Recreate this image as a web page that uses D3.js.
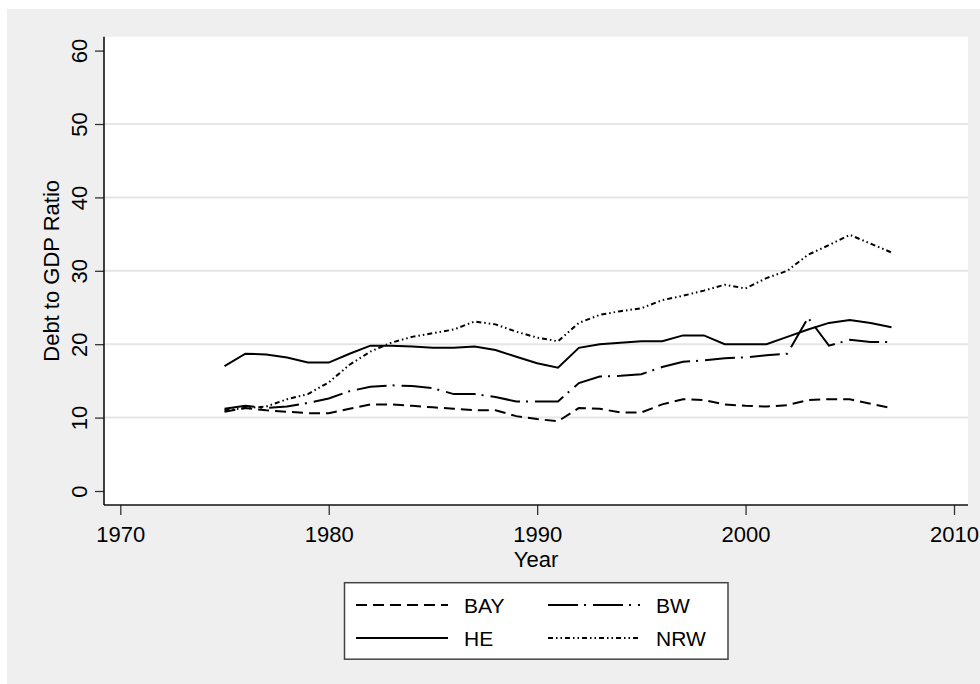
<!DOCTYPE html>
<html>
<head>
<meta charset="utf-8">
<script src="https://cdn.jsdelivr.net/npm/d3@7"></script>
<style>
  body { margin: 0; background: #fff; }
  text { font-family: "Liberation Sans", Arial, sans-serif; fill: #000; }
</style>
</head>
<body>
<div id="chart"></div>
<script>
// Debt to GDP ratio by Land, 1975-2007
const years = [1975, 1976, 1977, 1978, 1979, 1980, 1981, 1982, 1983, 1984, 1985,
  1986, 1987, 1988, 1989, 1990, 1991, 1992, 1993, 1994, 1995, 1996, 1997, 1998,
  1999, 2000, 2001, 2002, 2003, 2004, 2005, 2006, 2007];

const bay = [10.8, 11.3, 11.0, 10.8, 10.6, 10.6, 11.2, 11.8, 11.8, 11.6, 11.4,
  11.2, 11.0, 11.0, 10.2, 9.8, 9.5, 11.3, 11.2, 10.7, 10.7, 11.8, 12.5, 12.4,
  11.8, 11.6, 11.5, 11.7, 12.4, 12.5, 12.5, 11.9, 11.3];

const bw = [11.2, 11.6, 11.3, 11.5, 12.0, 12.6, 13.6, 14.2, 14.4, 14.3, 14.0,
  13.2, 13.2, 12.8, 12.2, 12.2, 12.2, 14.7, 15.6, 15.7, 15.9, 16.9, 17.6, 17.8,
  18.1, 18.2, 18.5, 18.7, 23.6, 19.8, 20.6, 20.3, 20.3];

const he = [17.0, 18.7, 18.6, 18.2, 17.5, 17.5, 18.7, 19.8, 19.8, 19.7, 19.5,
  19.5, 19.7, 19.2, 18.3, 17.4, 16.8, 19.5, 20.0, 20.2, 20.4, 20.4, 21.2, 21.2,
  20.0, 20.0, 20.0, 21.0, 22.0, 22.9, 23.3, 22.9, 22.3];

const nrw = [11.0, 11.3, 11.5, 12.5, 13.2, 14.8, 17.2, 19.0, 20.2, 21.0, 21.5,
  22.0, 23.1, 22.7, 21.7, 20.9, 20.4, 22.9, 24.0, 24.5, 24.9, 26.0, 26.6, 27.3,
  28.1, 27.6, 29.0, 30.0, 32.2, 33.5, 34.9, 33.7, 32.5];

const xTicks = [1970, 1980, 1990, 2000, 2010];
const yTicks = [0, 10, 20, 30, 40, 50, 60];
const gridTicks = [10, 20, 30, 40, 50];

const seriesNames = ["BAY", "BW", "HE", "NRW"];
const seriesValues = [bay, bw, he, nrw];

// line patterns, Stata style
const dashes = {
  BAY: "11,6",
  BW: "30,6,2,7",
  HE: null,
  NRW: "5,3,1.5,3,1.5,3"
};

const width = 980, height = 684;
const plot = { left: 104, right: 968, top: 36.7, bottom: 505 };

const svg = d3.select("#chart").append("svg")
  .attr("width", width)
  .attr("height", height);

// outer grey panel
svg.append("rect")
  .attr("x", 7).attr("y", 9)
  .attr("width", width - 7).attr("height", height - 9)
  .attr("fill", "#efefef");

// plot region
svg.append("rect")
  .attr("x", plot.left).attr("y", plot.top)
  .attr("width", plot.right - plot.left)
  .attr("height", plot.bottom - plot.top)
  .attr("fill", "#fff");

const x = d3.scaleLinear().domain([1970, 2010]).range([120.3, 954]);
const y = d3.scaleLinear().domain([0, 60]).range([491, 50.6]);

// gridlines
svg.append("g")
  .selectAll("line")
  .data(gridTicks)
  .enter().append("line")
  .attr("x1", plot.left).attr("x2", plot.right)
  .attr("y1", d => y(d)).attr("y2", d => y(d))
  .attr("stroke", "#e6e6e6")
  .attr("stroke-width", 2);

// y axis
const yAxis = svg.append("g")
  .attr("transform", `translate(${plot.left},0)`)
  .call(d3.axisLeft(y).tickValues(yTicks).tickSize(9).tickPadding(0).tickFormat(d3.format("d")));
yAxis.select(".domain").remove();
yAxis.selectAll(".tick line").attr("stroke", "#333").attr("stroke-width", 1.3);
yAxis.selectAll(".tick text")
  .attr("x", null).attr("dy", null)
  .attr("text-anchor", "middle")
  .attr("transform", "translate(-17,0) rotate(-90)")
  .style("font-size", "22px");

// x axis
const xAxis = svg.append("g")
  .attr("transform", `translate(0,${plot.bottom})`)
  .call(d3.axisBottom(x).tickValues(xTicks).tickSize(10).tickPadding(0).tickFormat(d3.format("d")));
xAxis.select(".domain").remove();
xAxis.selectAll(".tick line").attr("stroke", "#333").attr("stroke-width", 1.3);
xAxis.selectAll(".tick text")
  .attr("y", 37).attr("dy", null)
  .style("font-size", "22px");

// axis lines
svg.append("line")
  .attr("x1", plot.left).attr("x2", plot.left)
  .attr("y1", plot.top).attr("y2", plot.bottom)
  .attr("stroke", "#111").attr("stroke-width", 1.6);
svg.append("line")
  .attr("x1", plot.left).attr("x2", plot.right)
  .attr("y1", plot.bottom).attr("y2", plot.bottom)
  .attr("stroke", "#111").attr("stroke-width", 1.6);

// axis titles
svg.append("text")
  .attr("transform", `translate(59,${(plot.top + plot.bottom) / 2}) rotate(-90)`)
  .attr("text-anchor", "middle")
  .style("font-size", "22px")
  .text("Debt to GDP Ratio");

svg.append("text")
  .attr("x", (plot.left + plot.right) / 2)
  .attr("y", 567)
  .attr("text-anchor", "middle")
  .style("font-size", "22px")
  .text("Year");

// series lines
const line = d3.line()
  .x(d => x(d.year))
  .y(d => y(d.value));

seriesNames.forEach((name, i) => {
  const data = years.map((yr, j) => ({ year: yr, value: seriesValues[i][j] }));
  svg.append("path")
    .datum(data)
    .attr("fill", "none")
    .attr("stroke", "#000")
    .attr("stroke-width", 2)
    .attr("stroke-dasharray", dashes[name])
    .attr("d", line);
});

// legend
const legend = svg.append("g");
legend.append("rect")
  .attr("x", 344.5).attr("y", 582.7)
  .attr("width", 383.5).attr("height", 76.5)
  .attr("fill", "#fff")
  .attr("stroke", "#444")
  .attr("stroke-width", 1.5);

const legendItems = [
  { name: "BAY", col: 0, row: 0 },
  { name: "BW", col: 1, row: 0 },
  { name: "HE", col: 0, row: 1 },
  { name: "NRW", col: 1, row: 1 }
];
const colX = [356, 548];
const rowY = [605, 638];

legendItems.forEach(item => {
  const lx = colX[item.col], ly = rowY[item.row];
  legend.append("line")
    .attr("x1", lx).attr("x2", lx + 92)
    .attr("y1", ly).attr("y2", ly)
    .attr("stroke", "#000")
    .attr("stroke-width", 2)
    .attr("stroke-dasharray", dashes[item.name]);
  legend.append("text")
    .attr("x", lx + 108)
    .attr("y", ly + 8)
    .style("font-size", "21px")
    .text(item.name);
});
</script>
</body>
</html>
